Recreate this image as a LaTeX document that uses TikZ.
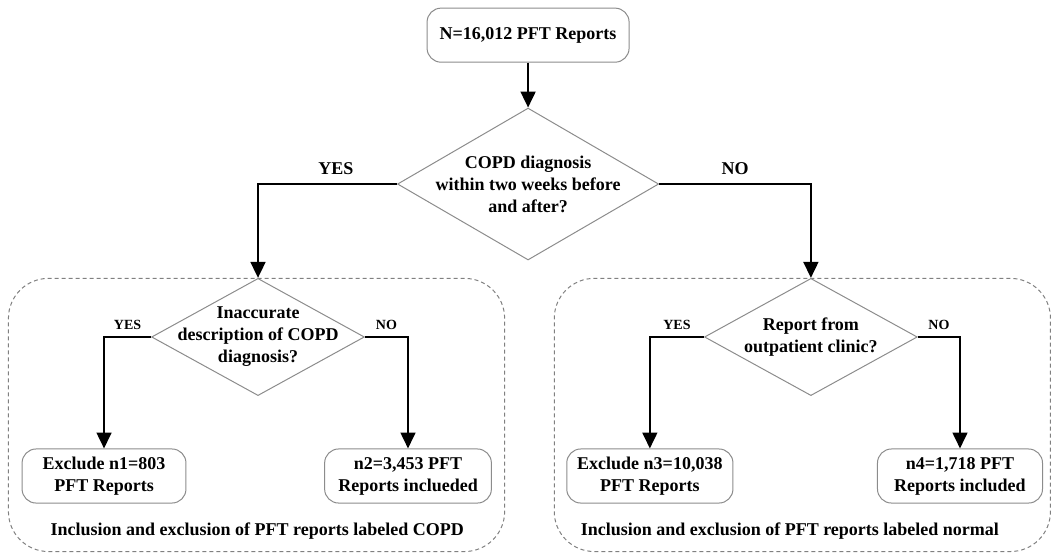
\documentclass[tikz,border=0pt]{standalone}
\usepackage{fontspec}
\setmainfont{Liberation Serif}
\usetikzlibrary{positioning,arrows.meta,shapes.geometric}

\begin{document}
\begin{tikzpicture}[
  font=\bfseries\fontsize{9}{11}\selectfont,
  box/.style={rectangle, rounded corners=7pt, draw=black!45, line width=0.5pt,
              minimum height=0.95cm, inner sep=2pt, fill=white, align=center},
  dia/.style={diamond, draw=black!45, line width=0.5pt, inner xsep=-2cm, inner ysep=-1cm,
              align=center},
  grp/.style={rectangle, rounded corners=20pt, draw=black!50, line width=0.5pt,
              dash pattern=on 2pt off 1.5pt, minimum width=8.72cm, minimum height=4.8cm},
  arr/.style={-{Triangle[length=2.8mm,width=2.6mm]}, draw=black, line width=1.1pt},
  lbl/.style={font=\bfseries\fontsize{7}{8}\selectfont, above}
]
\useasboundingbox (0,0) rectangle (18.645,9.718);

% frames
\node[grp] (grpL) at (4.508,2.426) {};
\node[grp] (grpR) at (14.10,2.426) {};
\node (capL) at (4.52,0.39)  {Inclusion and exclusion of PFT reports labeled COPD};
\node (capR) at (13.88,0.39) {Inclusion and exclusion of PFT reports labeled normal};

% nodes
\node[box, minimum width=3.55cm] (all) at (9.28,9.10) {N=16,012 PFT Reports};
\node[dia, minimum width=4.59cm, minimum height=2.67cm] (q1) at (9.28,6.484)
  {COPD diagnosis\\within two weeks before\\and after?};
\node[dia, minimum width=3.74cm, minimum height=2.06cm] (q2) at (4.534,3.796)
  {Inaccurate\\description of COPD\\diagnosis?};
\node[dia, minimum width=3.74cm, minimum height=2.06cm] (q3) at (14.25,3.796)
  {Report from\\outpatient clinic?};
\node[box, minimum width=2.88cm] (ex1) at (1.828,1.353) {Exclude n1=803\\PFT Reports};
\node[box, minimum width=2.93cm] (in2) at (7.170,1.353) {n2=3,453 PFT\\Reports inclueded};
\node[box, minimum width=2.92cm] (ex3) at (11.42,1.353) {Exclude n3=10,038\\PFT Reports};
\node[box, minimum width=2.90cm] (in4) at (16.87,1.353) {n4=1,718 PFT\\Reports included};

% arrows
\draw[arr] (all.south) -- (q1.north);
\draw[arr] (q1.west) -| node[pos=0.22, above, yshift=1pt]{YES} (q2.north);
\draw[arr] (q1.east) -| node[pos=0.25, above, yshift=1pt]{NO} (q3.north);
\draw[arr] (q2.west) -| node[lbl, pos=0.25]{YES} (ex1.north);
\draw[arr] (q2.east) -| node[lbl, pos=0.25]{NO} (in2.north);
\draw[arr] (q3.west) -| node[lbl, pos=0.25]{YES} (ex3.north);
\draw[arr] (q3.east) -| node[lbl, pos=0.25]{NO} (in4.north);
\end{tikzpicture}
\end{document}
